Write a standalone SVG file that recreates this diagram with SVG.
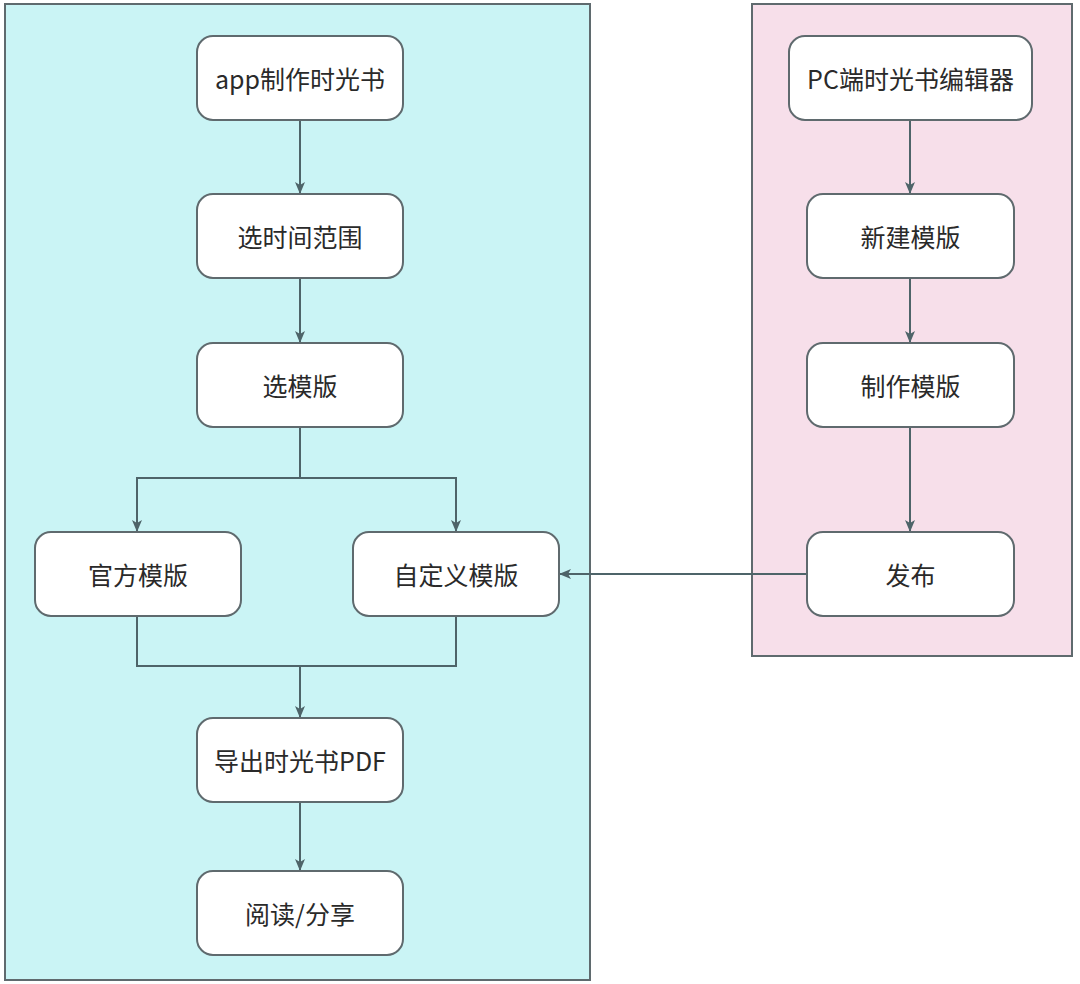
<svg xmlns="http://www.w3.org/2000/svg" width="1080" height="984" viewBox="0 0 1080 984">
<style>
.lane{stroke:#5f6a6e;stroke-width:2}
.node rect{fill:#ffffff;stroke:#5f6a6e;stroke-width:2}
.node text{font-family:"Noto Sans CJK SC","Noto Sans",sans-serif;font-size:25px;fill:#2a2a2a;text-anchor:middle;dominant-baseline:central}
.edge{fill:none;stroke:#4e6469;stroke-width:2}
</style>
<defs>
<marker id="arr" viewBox="0 0 12 12" refX="11" refY="6" markerWidth="12" markerHeight="12" markerUnits="userSpaceOnUse" orient="auto">
<path d="M0,1 L12,6 L0,11 L3,6 Z" fill="#4e6469"/>
</marker>
</defs>
<rect width="1080" height="984" fill="#ffffff"/>
<rect id="lane-app" class="lane" x="5" y="4" width="585" height="976" fill="#caf4f5"/>
<rect id="lane-pc" class="lane" x="752" y="4" width="320" height="652" fill="#f7dfea"/>
<g id="connectors">
<path class="edge" d="M300,120 V193" marker-end="url(#arr)"/>
<path class="edge" d="M300,278 V342" marker-end="url(#arr)"/>
<path class="edge" d="M300,427 V478 H137 V531" marker-end="url(#arr)"/>
<path class="edge" d="M300,478 H456 V531" marker-end="url(#arr)"/>
<path class="edge" d="M137,616 V666 H456 V616"/>
<path class="edge" d="M300,666 V717" marker-end="url(#arr)"/>
<path class="edge" d="M300,802 V870" marker-end="url(#arr)"/>
<path class="edge" d="M910,120 V193" marker-end="url(#arr)"/>
<path class="edge" d="M910,278 V342" marker-end="url(#arr)"/>
<path class="edge" d="M910,427 V531" marker-end="url(#arr)"/>
<path class="edge" d="M807,574 H560" marker-end="url(#arr)"/>
</g>
<g id="n-app" class="node"><rect x="197" y="36" width="206" height="84" rx="16"/><text x="300" y="78">app制作时光书</text></g>
<g id="n-range" class="node"><rect x="197" y="194" width="206" height="84" rx="16"/><text x="300" y="236">选时间范围</text></g>
<g id="n-tpl" class="node"><rect x="197" y="343" width="206" height="84" rx="16"/><text x="300" y="385">选模版</text></g>
<g id="n-official" class="node"><rect x="35" y="532" width="206" height="84" rx="16"/><text x="138" y="574">官方模版</text></g>
<g id="n-custom" class="node"><rect x="353" y="532" width="206" height="84" rx="16"/><text x="456" y="574">自定义模版</text></g>
<g id="n-export" class="node"><rect x="197" y="718" width="206" height="84" rx="16"/><text x="300" y="760">导出时光书PDF</text></g>
<g id="n-read" class="node"><rect x="197" y="871" width="206" height="84" rx="16"/><text x="300" y="913">阅读/分享</text></g>
<g id="n-pc" class="node"><rect x="789" y="36" width="243" height="84" rx="16"/><text x="910.5" y="78">PC端时光书编辑器</text></g>
<g id="n-new" class="node"><rect x="807" y="194" width="207" height="84" rx="16"/><text x="910.5" y="236">新建模版</text></g>
<g id="n-make" class="node"><rect x="807" y="343" width="207" height="84" rx="16"/><text x="910.5" y="385">制作模版</text></g>
<g id="n-publish" class="node"><rect x="807" y="532" width="207" height="84" rx="16"/><text x="910.5" y="574">发布</text></g>
</svg>
